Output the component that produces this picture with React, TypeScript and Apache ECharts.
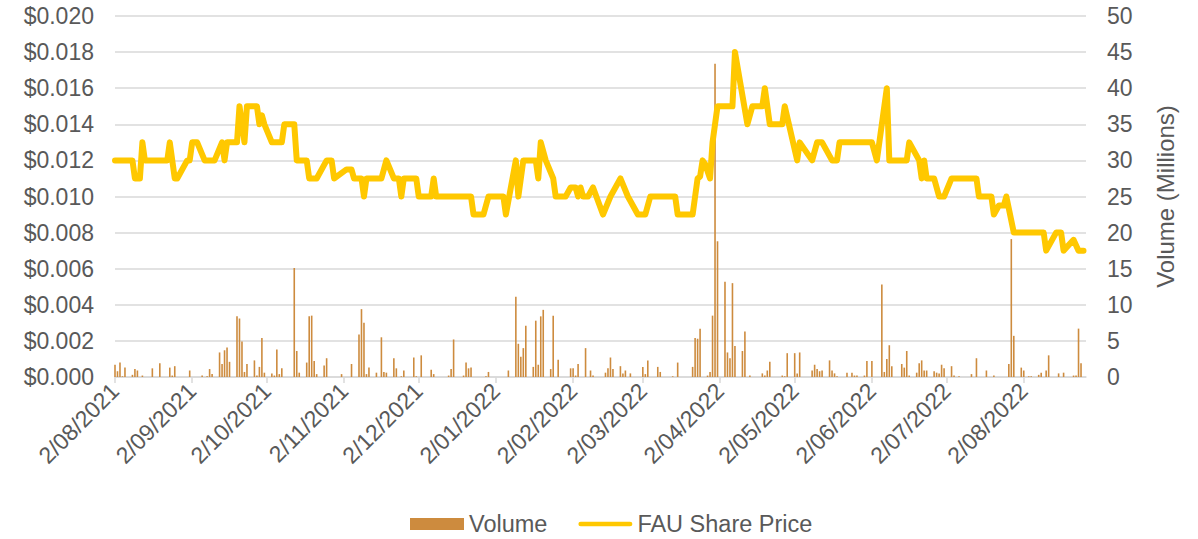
import React, { useEffect, useRef } from 'react';
import * as echarts from 'echarts';

const START_DATE = '2021-08-02';
const AXIS_END_DATE = '2022-08-27';

const TICK_LABELS = [
  '2/08/2021', '2/09/2021', '2/10/2021', '2/11/2021', '2/12/2021', '2/01/2022', '2/02/2022',
  '2/03/2022', '2/04/2022', '2/05/2022', '2/06/2022', '2/07/2022', '2/08/2022',
];

const PRICE_DATES = [
  '2021-08-02', '2021-08-09', '2021-08-10', '2021-08-12', '2021-08-13', '2021-08-14', '2021-08-23',
  '2021-08-24', '2021-08-26', '2021-08-27', '2021-08-31', '2021-09-01', '2021-09-02', '2021-09-04',
  '2021-09-07', '2021-09-11', '2021-09-14', '2021-09-15', '2021-09-16', '2021-09-20', '2021-09-21',
  '2021-09-23', '2021-09-24', '2021-09-28', '2021-09-29', '2021-09-30', '2021-10-01', '2021-10-04',
  '2021-10-08', '2021-10-09', '2021-10-13', '2021-10-14', '2021-10-18', '2021-10-19', '2021-10-22',
  '2021-10-26', '2021-10-28', '2021-10-29', '2021-11-03', '2021-11-05', '2021-11-06', '2021-11-09',
  '2021-11-10', '2021-11-11', '2021-11-17', '2021-11-19', '2021-11-22', '2021-11-24', '2021-11-25',
  '2021-11-26', '2021-12-01', '2021-12-02', '2021-12-07', '2021-12-08', '2021-12-09', '2021-12-23',
  '2021-12-24', '2021-12-28', '2021-12-30', '2022-01-05', '2022-01-06', '2022-01-10', '2022-01-11',
  '2022-01-13', '2022-01-18', '2022-01-19', '2022-01-20', '2022-01-22', '2022-01-25', '2022-01-26',
  '2022-01-30', '2022-02-01', '2022-02-03', '2022-02-04', '2022-02-05', '2022-02-06', '2022-02-08',
  '2022-02-10', '2022-02-14', '2022-02-17', '2022-02-21', '2022-02-24', '2022-02-28', '2022-03-03',
  '2022-03-05', '2022-03-15', '2022-03-16', '2022-03-22', '2022-03-24', '2022-03-25', '2022-03-26',
  '2022-03-27', '2022-03-29', '2022-03-30', '2022-04-01', '2022-04-07', '2022-04-08', '2022-04-13',
  '2022-04-15', '2022-04-19', '2022-04-20', '2022-04-22', '2022-04-27', '2022-04-28', '2022-05-03',
  '2022-05-04', '2022-05-09', '2022-05-11', '2022-05-13', '2022-05-17', '2022-05-19', '2022-05-20',
  '2022-06-02', '2022-06-04', '2022-06-08', '2022-06-09', '2022-06-16', '2022-06-17', '2022-06-21',
  '2022-06-22', '2022-06-23', '2022-06-24', '2022-06-27', '2022-06-29', '2022-07-01', '2022-07-04',
  '2022-07-14', '2022-07-15', '2022-07-20', '2022-07-21', '2022-07-23', '2022-07-25', '2022-07-26',
  '2022-07-29', '2022-08-10', '2022-08-11', '2022-08-15', '2022-08-17', '2022-08-18', '2022-08-22',
  '2022-08-24', '2022-08-26',
];

const PRICE_VALUES = [
  0.012, 0.012, 0.011, 0.011, 0.013, 0.012, 0.012,
  0.013, 0.011, 0.011, 0.012, 0.012, 0.013, 0.013,
  0.012, 0.012, 0.013, 0.012, 0.013, 0.013, 0.015,
  0.013, 0.015, 0.015, 0.014, 0.0145, 0.014, 0.013,
  0.013, 0.014, 0.014, 0.012, 0.012, 0.011, 0.011,
  0.012, 0.012, 0.011, 0.0115, 0.0115, 0.011, 0.011,
  0.010, 0.011, 0.011, 0.012, 0.011, 0.011, 0.010,
  0.011, 0.011, 0.010, 0.010, 0.011, 0.010, 0.010,
  0.009, 0.009, 0.010, 0.010, 0.009, 0.012, 0.010,
  0.012, 0.012, 0.011, 0.013, 0.012, 0.011, 0.010,
  0.010, 0.0105, 0.0105, 0.010, 0.0105, 0.010, 0.010,
  0.0105, 0.009, 0.010, 0.011, 0.010, 0.009, 0.009,
  0.010, 0.010, 0.009, 0.009, 0.011, 0.0111, 0.012,
  0.0118, 0.011, 0.013, 0.015, 0.015, 0.018, 0.014,
  0.015, 0.015, 0.016, 0.014, 0.014, 0.015, 0.012,
  0.013, 0.012, 0.013, 0.013, 0.012, 0.012, 0.013,
  0.013, 0.012, 0.016, 0.012, 0.012, 0.013, 0.012,
  0.011, 0.012, 0.011, 0.011, 0.010, 0.010, 0.011,
  0.011, 0.010, 0.010, 0.009, 0.0095, 0.0095, 0.010,
  0.008, 0.008, 0.007, 0.008, 0.008, 0.007, 0.0076,
  0.007, 0.007,
];

const VOLUME_DATES = [
  '2021-08-02', '2021-08-03', '2021-08-04', '2021-08-05', '2021-08-06', '2021-08-09', '2021-08-10',
  '2021-08-11', '2021-08-13', '2021-08-17', '2021-08-20', '2021-08-24', '2021-08-25', '2021-08-26',
  '2021-09-01', '2021-09-06', '2021-09-08', '2021-09-09', '2021-09-10', '2021-09-13', '2021-09-14',
  '2021-09-15', '2021-09-16', '2021-09-17', '2021-09-20', '2021-09-21', '2021-09-22', '2021-09-23',
  '2021-09-24', '2021-09-27', '2021-09-28', '2021-09-29', '2021-09-30', '2021-10-01', '2021-10-04',
  '2021-10-05', '2021-10-06', '2021-10-07', '2021-10-08', '2021-10-13', '2021-10-14', '2021-10-15',
  '2021-10-18', '2021-10-19', '2021-10-20', '2021-10-21', '2021-10-22', '2021-10-25', '2021-10-26',
  '2021-11-01', '2021-11-05', '2021-11-08', '2021-11-09', '2021-11-10', '2021-11-11', '2021-11-12',
  '2021-11-15', '2021-11-17', '2021-11-18', '2021-11-19', '2021-11-22', '2021-11-23', '2021-11-25',
  '2021-11-26', '2021-11-30', '2021-12-01', '2021-12-03', '2021-12-07', '2021-12-08', '2021-12-14',
  '2021-12-15', '2021-12-16', '2021-12-20', '2021-12-21', '2021-12-22', '2021-12-23', '2021-12-29',
  '2021-12-30', '2022-01-07', '2022-01-10', '2022-01-11', '2022-01-12', '2022-01-13', '2022-01-14',
  '2022-01-17', '2022-01-18', '2022-01-19', '2022-01-20', '2022-01-21', '2022-01-24', '2022-01-25',
  '2022-01-27', '2022-02-01', '2022-02-02', '2022-02-03', '2022-02-04', '2022-02-07', '2022-02-09',
  '2022-02-10', '2022-02-15', '2022-02-16', '2022-02-17', '2022-02-18', '2022-02-21', '2022-02-22',
  '2022-02-23', '2022-02-25', '2022-03-02', '2022-03-03', '2022-03-04', '2022-03-08', '2022-03-09',
  '2022-03-14', '2022-03-16', '2022-03-22', '2022-03-23', '2022-03-24', '2022-03-25', '2022-03-28',
  '2022-03-29', '2022-03-30', '2022-03-31', '2022-04-01', '2022-04-04', '2022-04-05', '2022-04-06',
  '2022-04-07', '2022-04-08', '2022-04-11', '2022-04-12', '2022-04-14', '2022-04-19', '2022-04-20',
  '2022-04-21', '2022-04-22', '2022-04-27', '2022-04-28', '2022-04-29', '2022-05-02', '2022-05-03',
  '2022-05-04', '2022-05-09', '2022-05-10', '2022-05-11', '2022-05-12', '2022-05-13', '2022-05-16',
  '2022-05-17', '2022-05-18', '2022-05-19', '2022-05-23', '2022-05-25', '2022-05-26', '2022-05-27',
  '2022-05-30', '2022-05-31', '2022-06-02', '2022-06-06', '2022-06-07', '2022-06-08', '2022-06-09',
  '2022-06-10', '2022-06-14', '2022-06-15', '2022-06-16', '2022-06-17', '2022-06-20', '2022-06-21',
  '2022-06-22', '2022-06-23', '2022-06-24', '2022-06-27', '2022-06-28', '2022-06-29', '2022-06-30',
  '2022-07-01', '2022-07-04', '2022-07-05', '2022-07-07', '2022-07-12', '2022-07-14', '2022-07-18',
  '2022-07-21', '2022-07-27', '2022-07-28', '2022-07-29', '2022-08-01', '2022-08-02', '2022-08-04',
  '2022-08-05', '2022-08-08', '2022-08-09', '2022-08-11', '2022-08-12', '2022-08-16', '2022-08-18',
  '2022-08-22', '2022-08-23', '2022-08-24', '2022-08-25',
];

const VOLUME_MILLIONS = [
  1.7, 0.8, 2.0, 0.1, 1.3, 0.3, 1.1,
  0.9, 0.2, 1.2, 1.9, 1.3, 0.2, 1.5,
  0.9, 0.2, 0.1, 1.1, 0.4, 3.4, 1.8,
  3.7, 4.1, 2.1, 8.4, 8.1, 4.9, 0.7,
  1.8, 2.3, 0.2, 1.4, 5.4, 0.6, 0.5,
  0.2, 3.8, 0.4, 1.2, 15.1, 3.6, 0.6,
  2.0, 8.4, 8.5, 2.2, 0.4, 1.6, 2.6,
  0.4, 1.8, 5.9, 9.4, 7.5, 0.4, 1.3,
  0.6, 5.5, 0.7, 0.6, 2.6, 1.2, 0.1,
  0.9, 2.7, 0.1, 3.0, 1.0, 0.4, 0.2,
  1.1, 5.2, 0.2, 2.0, 1.2, 1.3, 0.1,
  0.7, 0.9, 11.1, 4.6, 2.8, 4.0, 7.1,
  1.4, 7.8, 1.7, 8.4, 9.3, 1.1, 8.5,
  2.4, 1.2, 1.2, 0.2, 1.8, 4.0, 0.9,
  0.2, 0.6, 1.2, 2.7, 1.1, 1.5, 0.5,
  0.9, 0.5, 1.4, 0.4, 2.3, 1.4, 0.7,
  0.1, 2.0, 1.4, 5.4, 5.3, 6.7, 0.2,
  0.7, 8.5, 43.4, 18.8, 13.2, 3.4, 2.6,
  13.0, 4.3, 3.6, 6.3, 0.2, 0.5, 0.2,
  0.9, 2.1, 0.2, 0.1, 3.3, 3.3, 0.5,
  3.4, 0.9, 1.7, 1.1, 0.8, 0.9, 2.3,
  0.9, 0.5, 0.1, 0.6, 0.6, 0.2, 0.2,
  0.2, 2.2, 2.2, 12.8, 0.7, 2.5, 4.4,
  1.5, 1.8, 1.3, 3.6, 0.2, 0.6, 1.9,
  2.3, 0.9, 0.9, 0.8, 0.6, 0.5, 1.7,
  1.2, 1.5, 0.2, 0.1, 0.4, 2.6, 0.9,
  0.2, 1.8, 19.1, 5.7, 1.3, 0.9, 0.1,
  0.1, 0.3, 0.6, 0.9, 3.0, 0.5, 0.6,
  0.2, 0.2, 6.7, 1.9,
];

function toUTC(iso: string): number {
  const [y, m, d] = iso.split('-').map(Number);
  return Date.UTC(y, m - 1, d);
}

function dayIndex(iso: string): number {
  return Math.round((toUTC(iso) - toUTC(START_DATE)) / 86400000);
}

function labelToIso(label: string): string {
  const [d, m, y] = label.split('/');
  return `${y}-${m.padStart(2, '0')}-${d.padStart(2, '0')}`;
}

const TEXT_COLOR = '#595959';
const GRID_COLOR = '#D9D9D9';
const FONT = '"Liberation Sans", Arial, sans-serif';

export default function App() {
  const ref = useRef<HTMLDivElement>(null);

  useEffect(() => {
    if (!ref.current) return;
    const chart = echarts.init(ref.current, undefined, { renderer: 'svg' });

    const tickDays = TICK_LABELS.map((l) => dayIndex(labelToIso(l)));
    const labelByDay: Record<number, string> = {};
    TICK_LABELS.forEach((l, i) => {
      labelByDay[tickDays[i]] = l;
    });

    const option = {
      animation: false,
      textStyle: { fontFamily: FONT },
      grid: { left: 115, right: 112, top: 16, bottom: 162 },
      legend: {
        left: 405,
        top: 507,
        itemWidth: 54,
        itemHeight: 12,
        itemGap: 31,
        textStyle: { fontSize: 23.5, color: TEXT_COLOR, fontFamily: FONT },
        data: [
          { name: 'Volume', icon: 'rect' },
          {
            name: 'FAU Share Price',
            icon: 'path://M2.5,0 L54.5,0 A2.5,2.5 0 0 1 54.5,5 L2.5,5 A2.5,2.5 0 0 1 2.5,0 Z',
          },
        ],
      },
      xAxis: {
        type: 'value',
        min: 0,
        max: dayIndex(AXIS_END_DATE),
        splitLine: { show: false },
        axisLine: { show: true, lineStyle: { color: GRID_COLOR, width: 1.5 } },
        axisTick: {
          show: true,
          customValues: tickDays,
          length: 6,
          lineStyle: { color: GRID_COLOR, width: 1.5 },
        },
        axisLabel: {
          customValues: tickDays,
          rotate: 45,
          margin: 10,
          fontSize: 23,
          color: TEXT_COLOR,
          fontFamily: FONT,
          formatter: (v: number) => labelByDay[v] ?? '',
        },
      },
      yAxis: [
        {
          type: 'value',
          min: 0,
          max: 0.02,
          interval: 0.002,
          axisLine: { show: false },
          axisTick: { show: false },
          splitLine: { lineStyle: { color: GRID_COLOR, width: 1.5 } },
          axisLabel: {
            margin: 21,
            fontSize: 23,
            color: TEXT_COLOR,
            fontFamily: FONT,
            formatter: (v: number) => '$' + v.toFixed(3),
          },
        },
        {
          type: 'value',
          position: 'right',
          min: 0,
          max: 50,
          interval: 5,
          name: 'Volume (Millions)',
          nameLocation: 'middle',
          nameRotate: 90,
          nameGap: 67,
          nameTextStyle: { fontSize: 24, color: TEXT_COLOR, fontFamily: FONT },
          axisLine: { show: false },
          axisTick: { show: false },
          splitLine: { show: false },
          axisLabel: { margin: 21, fontSize: 23, color: TEXT_COLOR, fontFamily: FONT },
        },
      ],
      series: [
        {
          name: 'Volume',
          type: 'bar',
          yAxisIndex: 1,
          barWidth: 1.6,
          itemStyle: { color: '#CD8B3E' },
          data: VOLUME_DATES.map((d, i) => [dayIndex(d), VOLUME_MILLIONS[i]]),
          z: 2,
        },
        {
          name: 'FAU Share Price',
          type: 'line',
          yAxisIndex: 0,
          symbol: 'none',
          showSymbol: false,
          itemStyle: { color: '#FFC800' },
          lineStyle: { color: '#FFC800', width: 6, cap: 'round', join: 'round' },
          data: PRICE_DATES.map((d, i) => [dayIndex(d), PRICE_VALUES[i]]),
          z: 3,
        },
      ],
    };

    chart.setOption(option as any);
    return () => chart.dispose();
  }, []);

  return (
    <div
      ref={ref}
      style={{ position: 'fixed', left: 0, top: 0, width: 1198, height: 539, background: '#fff' }}
    />
  );
}
